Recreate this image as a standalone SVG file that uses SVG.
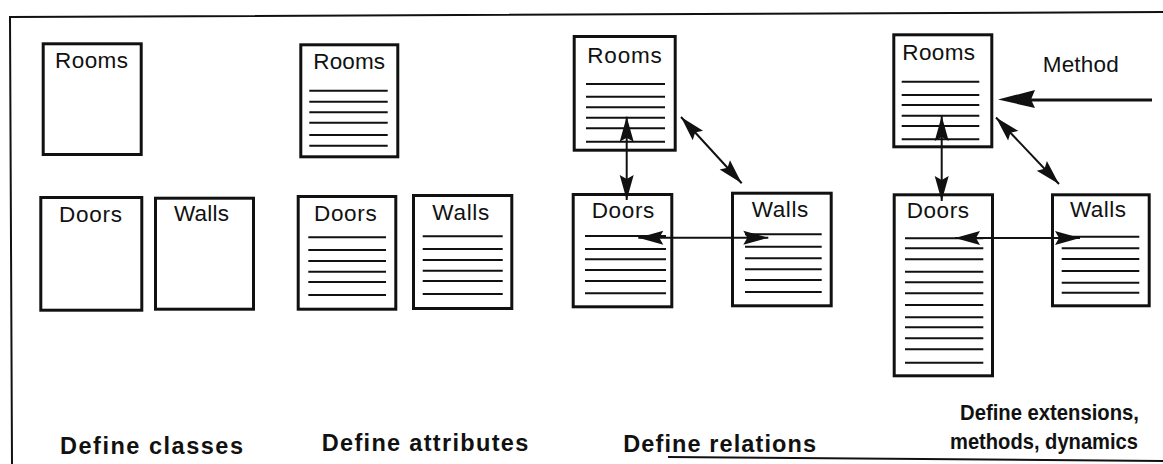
<svg xmlns="http://www.w3.org/2000/svg" width="1163" height="464" viewBox="0 0 1163 464">
  <style>
    .box { fill: #fff; stroke: #111; stroke-width: 3; }
    .attr { stroke: #111; stroke-width: 2; }
    .name { font-family: "Liberation Sans", Arial, sans-serif; font-size: 22.5px; fill: #111; }
    .caption { font-family: "Liberation Sans", Arial, sans-serif; font-size: 23.5px; font-weight: bold; fill: #111; }
    .caption.tight { font-size: 22px; }
    .link { stroke: #111; stroke-width: 2; fill: none; marker-start: url(#head); marker-end: url(#head); }
    .frame { stroke: #111; stroke-width: 2; fill: none; }
  </style>
  <defs>
    <marker id="head" markerUnits="userSpaceOnUse" orient="auto-start-reverse" overflow="visible" markerWidth="1" markerHeight="1" refX="0" refY="0">
      <path d="M0,0 L-25,-7 L-21,0 L-25,7 Z" fill="#111"/>
    </marker>
  </defs>
  <rect width="1163" height="464" fill="#fff"/>

  <!-- outer frame -->
  <g id="frame">
    <path class="frame" d="M1163,12 L10,17 L12,464"/>
    <path class="frame" d="M668,457 L1163,461"/>
  </g>

  <!-- stage 1: classes -->
  <g id="s1-rooms">
    <rect class="box" x="43.2" y="43.8" width="98" height="110.7"/>
    <text class="name" x="55" y="68" textLength="73" lengthAdjust="spacing">Rooms</text>
  </g>
  <g id="s1-doors">
    <rect class="box" x="40.8" y="197.5" width="101" height="112.7"/>
    <text class="name" x="59" y="221.5" textLength="63" lengthAdjust="spacing">Doors</text>
  </g>
  <g id="s1-walls">
    <rect class="box" x="155.5" y="198.2" width="98" height="111"/>
    <text class="name" x="174" y="221" textLength="55" lengthAdjust="spacing">Walls</text>
  </g>

  <!-- stage 2: attributes -->
  <g id="s2-rooms">
    <rect class="box" x="300.8" y="44.8" width="97" height="112"/>
    <text class="name" x="313.3" y="69.3" textLength="71.7" lengthAdjust="spacing">Rooms</text>
    <path class="attr" d="M309.3,90.7H387.7M309.3,101.7H387.7M309.3,112.3H387.7M309.3,122.7H387.7M309.3,135H387.7M309.3,145.7H387.7"/>
  </g>
  <g id="s2-doors">
    <rect class="box" x="298.2" y="196.5" width="97.6" height="112.7"/>
    <text class="name" x="314" y="220.7" textLength="62.7" lengthAdjust="spacing">Doors</text>
    <path class="attr" d="M308.3,237.3H386M308.3,250H386M308.3,261H386M308.3,271.7H386M308.3,282H386M308.3,295H386"/>
  </g>
  <g id="s2-walls">
    <rect class="box" x="413.5" y="195.5" width="98.3" height="113"/>
    <text class="name" x="432.3" y="220" textLength="57" lengthAdjust="spacing">Walls</text>
    <path class="attr" d="M422.7,236.3H502.7M422.7,249H502.7M422.7,260H502.7M422.7,270.7H502.7M422.7,281H502.7M422.7,294H502.7"/>
  </g>

  <!-- stage 3: relations -->
  <g id="s3-rooms">
    <rect class="box" x="574.2" y="36.5" width="101" height="113.7"/>
    <text class="name" x="587.3" y="62.7" textLength="74.4" lengthAdjust="spacing">Rooms</text>
    <path class="attr" d="M586,84H665M586,96.7H665M586,107.3H665M586,117.7H665M586,128.3H665M586,141.7H665"/>
  </g>
  <g id="s3-doors">
    <rect class="box" x="573.2" y="194.5" width="98.6" height="112.3"/>
    <text class="name" x="591.7" y="218.3" textLength="62.6" lengthAdjust="spacing">Doors</text>
    <path class="attr" d="M585,236H666M585,249H666M585,259.3H666M585,270H666M585,281H666M585,293.3H666"/>
  </g>
  <g id="s3-walls">
    <rect class="box" x="732.5" y="193.2" width="98.7" height="112.6"/>
    <text class="name" x="751.7" y="217.3" textLength="56.6" lengthAdjust="spacing">Walls</text>
    <path class="attr" d="M745,234.3H821.7M745,246.7H821.7M745,258.3H821.7M745,269.3H821.7M745,280H821.7M745,292H821.7"/>
  </g>

  <!-- stage 4: extensions, methods, dynamics -->
  <g id="s4-rooms">
    <rect class="box" x="893.8" y="34.8" width="98" height="112"/>
    <text class="name" x="902.3" y="60" textLength="72.7" lengthAdjust="spacing">Rooms</text>
    <path class="attr" d="M901.7,81.7H979.3M901.7,95H979.3M901.7,105H979.3M901.7,115.7H979.3M901.7,126H979.3M901.7,139.3H979.3"/>
  </g>
  <g id="s4-doors">
    <rect class="box" x="894.2" y="194.8" width="98.3" height="181"/>
    <text class="name" x="906.7" y="218.3" textLength="62.3" lengthAdjust="spacing">Doors</text>
    <path class="attr" d="M905,238.3H983.3M905,248.3H983.3M905,259.3H983.3M905,271.7H983.3M905,282.3H983.3M905,293.3H983.3M905,305H983.3M905,317.3H983.3M905,327.3H983.3M905,338.3H983.3M905,349.3H983.3M905,362.7H983.3"/>
  </g>
  <g id="s4-walls">
    <rect class="box" x="1052.5" y="194.8" width="96.7" height="111"/>
    <text class="name" x="1070" y="217.3" textLength="56" lengthAdjust="spacing">Walls</text>
    <path class="attr" d="M1061.7,236.7H1139.3M1061.7,248.3H1139.3M1061.7,259H1139.3M1061.7,271H1139.3M1061.7,282.7H1139.3M1061.7,292.7H1139.3"/>
  </g>
  <g id="s4-method">
    <text class="name" x="1042.7" y="72" textLength="76" lengthAdjust="spacing">Method</text>
  </g>

  <!-- relation connectors -->
  <g id="connectors">
    <line class="link" x1="626.7" y1="116.7" x2="626.7" y2="200"/>
    <line class="link" x1="681" y1="117" x2="741.7" y2="183.3"/>
    <line class="link" x1="638.3" y1="237.7" x2="768.3" y2="237.7"/>
    <line class="link" x1="941.7" y1="116" x2="941.7" y2="201"/>
    <line class="link" x1="996" y1="117.5" x2="1059" y2="184"/>
    <line class="link" x1="955" y1="238" x2="1080" y2="238"/>
    <line x1="1152" y1="100" x2="1030" y2="100" stroke="#111" stroke-width="3"/>
    <path d="M998,99.5 L1035,90 L1031,99.5 L1035,108 Z" fill="#111"/>
  </g>

  <!-- stage captions -->
  <g id="captions">
    <text class="caption" x="60" y="454" textLength="183" lengthAdjust="spacing">Define classes</text>
    <text class="caption" x="321.7" y="451.3" textLength="206.6" lengthAdjust="spacing">Define attributes</text>
    <text class="caption" x="623.3" y="451.7" textLength="192.7" lengthAdjust="spacing">Define relations</text>
    <text class="caption tight" x="960" y="419.5" textLength="179" lengthAdjust="spacingAndGlyphs">Define extensions,</text>
    <text class="caption tight" x="950" y="449" textLength="188" lengthAdjust="spacingAndGlyphs">methods, dynamics</text>
  </g>
</svg>
